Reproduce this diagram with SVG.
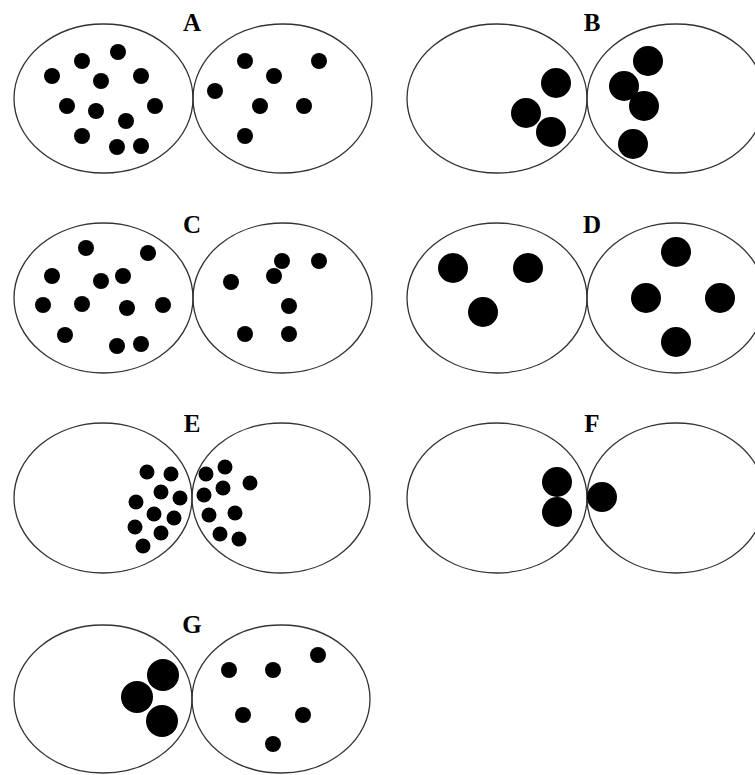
<svg xmlns="http://www.w3.org/2000/svg" width="755" height="775" viewBox="0 0 755 775">
<style>
.cell{fill:none;stroke:#333;stroke-width:1.3}
.d{fill:#000}
.lbl{font-family:"Liberation Serif","Times New Roman",serif;font-weight:bold;font-size:25px;text-anchor:middle;fill:#000}
</style>
<rect width="755" height="775" fill="#fff"/>
<g id="panelA">
<text class="lbl" x="192" y="31">A</text>
<ellipse class="cell" cx="103.5" cy="98.5" rx="89.5" ry="74.5"/>
<ellipse class="cell" cx="282.5" cy="98.5" rx="89.5" ry="74.5"/>
<g class="d">
<circle cx="118" cy="52" r="8"/><circle cx="82" cy="61" r="8"/><circle cx="52" cy="76" r="8"/><circle cx="101" cy="81" r="8"/><circle cx="141" cy="76" r="8"/><circle cx="67" cy="106" r="8"/><circle cx="96" cy="111" r="8"/><circle cx="155" cy="106" r="8"/><circle cx="126" cy="121" r="8"/><circle cx="82" cy="136" r="8"/><circle cx="117" cy="147" r="8"/><circle cx="141" cy="146" r="8"/>
<circle cx="245" cy="61" r="8"/><circle cx="319" cy="61" r="8"/><circle cx="274" cy="76" r="8"/><circle cx="215" cy="91" r="8"/><circle cx="260" cy="106" r="8"/><circle cx="304" cy="106" r="8"/><circle cx="245" cy="136" r="8"/>
</g>
</g>
<g id="panelB">
<text class="lbl" x="592" y="31">B</text>
<ellipse class="cell" cx="497" cy="98.5" rx="90" ry="74.5"/>
<ellipse class="cell" cx="676" cy="98.5" rx="89" ry="74.5"/>
<g class="d">
<circle cx="556" cy="83" r="15"/><circle cx="526" cy="113" r="15"/><circle cx="551" cy="132" r="15"/>
<circle cx="648" cy="61" r="15"/><circle cx="624" cy="86" r="15"/><circle cx="644" cy="106" r="15"/><circle cx="633" cy="144" r="15"/>
</g>
</g>
<g id="panelC">
<text class="lbl" x="192" y="233">C</text>
<ellipse class="cell" cx="103.5" cy="298" rx="89.5" ry="75"/>
<ellipse class="cell" cx="282.5" cy="298" rx="89.5" ry="75"/>
<g class="d">
<circle cx="86" cy="248" r="8"/><circle cx="148" cy="253" r="8"/><circle cx="52" cy="276" r="8"/><circle cx="101" cy="281" r="8"/><circle cx="123" cy="276" r="8"/><circle cx="43" cy="305" r="8"/><circle cx="82" cy="304" r="8"/><circle cx="127" cy="308" r="8"/><circle cx="163" cy="305" r="8"/><circle cx="65" cy="335" r="8"/><circle cx="117" cy="346" r="8"/><circle cx="141" cy="344" r="8"/>
<circle cx="282" cy="261" r="8"/><circle cx="319" cy="261" r="8"/><circle cx="274" cy="276" r="8"/><circle cx="231" cy="282" r="8"/><circle cx="289" cy="306" r="8"/><circle cx="245" cy="334" r="8"/><circle cx="289" cy="334" r="8"/>
</g>
</g>
<g id="panelD">
<text class="lbl" x="592" y="233">D</text>
<ellipse class="cell" cx="497" cy="298" rx="90" ry="75"/>
<ellipse class="cell" cx="676" cy="298" rx="89" ry="75"/>
<g class="d">
<circle cx="453" cy="268" r="15"/><circle cx="528" cy="268" r="15"/><circle cx="483" cy="312" r="15"/>
<circle cx="676" cy="252" r="15"/><circle cx="646" cy="298" r="15"/><circle cx="720" cy="298" r="15"/><circle cx="676" cy="342" r="15"/>
</g>
</g>
<g id="panelE">
<text class="lbl" x="192" y="432">E</text>
<ellipse class="cell" cx="103" cy="498" rx="89" ry="75"/>
<ellipse class="cell" cx="281" cy="498" rx="89" ry="75"/>
<g class="d">
<circle cx="147" cy="472" r="7.5"/><circle cx="171" cy="474" r="7.5"/><circle cx="161" cy="492" r="7.5"/><circle cx="180" cy="498" r="7.5"/><circle cx="136" cy="502" r="7.5"/><circle cx="154" cy="514" r="7.5"/><circle cx="174" cy="518" r="7.5"/><circle cx="135" cy="527" r="7.5"/><circle cx="161" cy="533" r="7.5"/><circle cx="143" cy="546" r="7.5"/>
<circle cx="206" cy="474" r="7.5"/><circle cx="225" cy="467" r="7.5"/><circle cx="250" cy="483" r="7.5"/><circle cx="223" cy="488" r="7.5"/><circle cx="204" cy="495" r="7.5"/><circle cx="209" cy="515" r="7.5"/><circle cx="235" cy="513" r="7.5"/><circle cx="220" cy="534" r="7.5"/><circle cx="239" cy="539" r="7.5"/>
</g>
</g>
<g id="panelF">
<text class="lbl" x="592" y="432">F</text>
<ellipse class="cell" cx="497" cy="498" rx="90" ry="75"/>
<ellipse class="cell" cx="676" cy="498" rx="89" ry="75"/>
<g class="d">
<circle cx="557" cy="482" r="15"/><circle cx="557" cy="512" r="15"/><circle cx="602" cy="497" r="15"/>
</g>
</g>
<g id="panelG">
<text class="lbl" x="192" y="633">G</text>
<ellipse class="cell" cx="103" cy="699" rx="89" ry="74"/>
<ellipse class="cell" cx="281" cy="699" rx="89" ry="74"/>
<g class="d">
<circle cx="163" cy="675" r="16"/><circle cx="137" cy="697" r="16"/><circle cx="162" cy="721" r="16"/>
<circle cx="229" cy="670" r="8"/><circle cx="273" cy="670" r="8"/><circle cx="318" cy="655" r="8"/><circle cx="243" cy="715" r="8"/><circle cx="303" cy="715" r="8"/><circle cx="273" cy="744" r="8"/>
</g>
</g>
<g id="connectors"/>
</svg>
